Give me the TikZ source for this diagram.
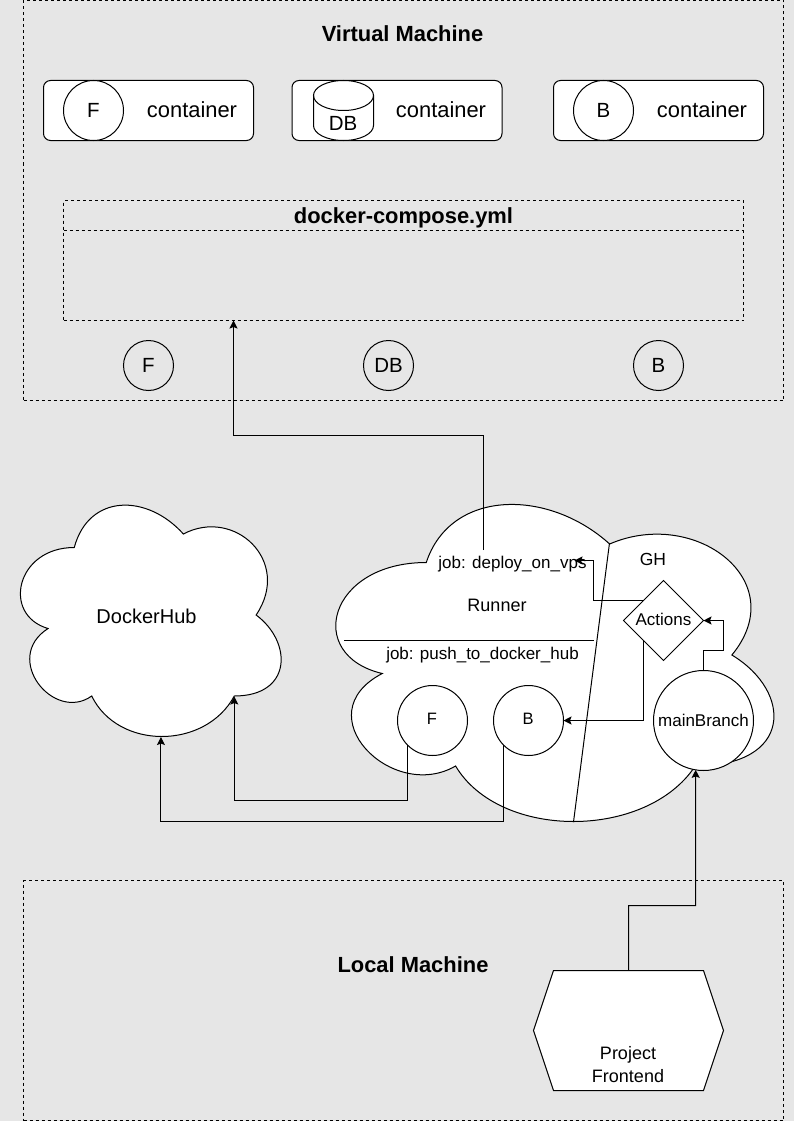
\documentclass[tikz,border=0pt]{standalone}
\usepackage{fontspec}
\setmainfont{Liberation Sans}
\usetikzlibrary{shapes.geometric,arrows.meta,calc}
\definecolor{pagebg}{HTML}{E6E6E6}
\newcommand{\fs}[1]{\fontsize{#1}{#1}\selectfont}
\def\cloudshape{(0.25,0.25) .. controls (0.05,0.25) and (0,0.5) .. (0.16,0.55)
 .. controls (0,0.66) and (0.18,0.9) .. (0.31,0.8)
 .. controls (0.4,1) and (0.7,1) .. (0.8,0.8)
 .. controls (1,0.8) and (1,0.6) .. (0.875,0.5)
 .. controls (1,0.3) and (0.8,0.1) .. (0.625,0.2)
 .. controls (0.5,0.05) and (0.3,0.05) .. (0.25,0.25) -- cycle}
\tikzset{
  x=1pt,y=-1pt,
  every node/.style={inner sep=0pt,outer sep=0pt},
  every path/.style={line width=1pt},
  zone/.style={draw=black,dash pattern=on 3pt off 3pt,rectangle,anchor=north west},
  title/.style={font=\bfseries\fs{21.9}},
  conbox/.style={draw=black,fill=white,rounded corners=7pt,rectangle,minimum width=210pt,minimum height=60pt},
  bigcirc/.style={draw=black,fill=white,circle,minimum size=60pt,font=\fs{20.5}},
  plaincirc/.style={draw=black,circle,minimum size=50pt,font=\fs{20.5}},
  jobcirc/.style={draw=black,fill=white,circle,minimum size=70pt,font=\fs{16.5}},
  lbl/.style={font=\fs{17}},
  lblbig/.style={font=\fs{21.9}},
  arrow/.style={draw=black,-{Stealth[length=8pt,width=8pt,inset=1.5pt]}},
  plainline/.style={draw=black}
}
\begin{document}
\begin{tikzpicture}
\useasboundingbox (0,0) rectangle (794,1121);
\fill[pagebg] (0,0) rectangle (794,1121);

% Virtual machine
\node[zone,minimum width=760pt,minimum height=400pt] (vm) at (23.5,0.5) {};
\node[title] (vmtitle) at (402.5,34) {Virtual Machine};
\node[conbox] (c1) at (148.5,110.5) {};
\node[conbox] (c2) at (397,110.5) {};
\node[conbox] (c3) at (658.5,110.5) {};
\node[bigcirc] (cF) at (93.5,110.5) {F};
\node[bigcirc] (cB) at (603.5,110.5) {B};
\draw[fill=white] (313.5,95.5) -- (313.5,125.5) arc[start angle=180,end angle=0,x radius=30,y radius=15] -- (373.5,95.5);
\draw (343.5,95.5) ellipse[x radius=30,y radius=15];
\node[lblbig,font=\fs{20.5}] (cDB) at (343,123) {DB};
\node[lblbig] (t1) at (192,110) {container};
\node[lblbig] (t2) at (441,110) {container};
\node[lblbig] (t3) at (702,110) {container};

% compose
\node[zone,minimum width=680pt,minimum height=120pt] (compose) at (63.5,200.5) {};
\node[zone,minimum width=680pt,minimum height=30pt] (composehead) at (63.5,200.5) {};
\node[title] (composetitle) at (403.5,218) {docker-compose.yml};
\coordinate (composein) at (233.5,320.5);
\node[plaincirc] (vF) at (148.5,365.5) {F};
\node[plaincirc] (vDB) at (388.5,365.5) {DB};
\node[plaincirc] (vB) at (658.5,365.5) {B};

% DockerHub cloud
\begin{scope}[shift={(1.5,480)},x=291pt,y=-270pt]
  \draw[fill=white] \cloudshape;
  \coordinate (hubA) at (0.548,0.952);
  \coordinate (hubB) at (0.8,0.802);
\end{scope}
\node[font=\fs{20}] (hub) at (146.5,616) {DockerHub};

% Runner/GH cloud
\begin{scope}[shift={(304,470)},x=489pt,y=-370pt]
  \draw[fill=white] \cloudshape;
\end{scope}
\coordinate (splitA) at (573.5,822);
\coordinate (splitB) at (609.5,543);
\draw[plainline] (splitA) -- (splitB);
\coordinate (ruleA) at (344,640.5);
\coordinate (ruleB) at (594,640.5);
\draw[plainline] (ruleA) -- (ruleB);
\node[lbl] (deploy) at (512.5,564) {job: deploy\_on\_vps};
\node[lbl] (push) at (482.5,655) {job: push\_to\_docker\_hub};
\node[font=\fs{18}] (runner) at (497,605) {Runner};
\node[font=\fs{17.5}] (gh) at (653,559) {GH};
\node[draw=black,fill=white,diamond,aspect=1,minimum width=80pt,minimum height=80pt] (actions) at (663.5,620.5) {};
\node[lbl] (actionstext) at (663.5,619.5) {Actions};
\node[jobcirc] (rF) at (432.5,720.5) {};
\node[jobcirc] (rB) at (528.5,720.5) {};
\node[font=\fs{16.5}] (rFt) at (432,719) {F};
\node[font=\fs{16.5}] (rBt) at (528,719) {B};
\node[draw=black,fill=white,circle,minimum size=100pt,font=\fs{17}] (main) at (703.5,720.5) {mainBranch};
\coordinate (deploysrc) at (483.5,550);

% Local machine
\node[zone,minimum width=760pt,minimum height=240pt] (local) at (23.5,880.5) {};
\node[title] (localtitle) at (413,964.5) {Local Machine};
\node[rectangle,minimum width=190pt,minimum height=120pt] (proj) at (628.5,1030.5) {};
\draw[fill=white] (proj.west) -- ($(proj.north west)+(20,0)$) -- ($(proj.north east)+(-20,0)$) -- (proj.east)
  -- ($(proj.south east)+(-20,0)$) -- ($(proj.south west)+(20,0)$) -- cycle;
\node[font=\fs{18},align=center,text depth=0pt] (projtext) at (628,1064.5) {Project\\[5pt]Frontend};

% connectors
\coordinate (busF) at (0,800.5);
\coordinate (busB) at (0,821);
\draw[arrow] (deploysrc) -- (483.5,435.5) -| (composein);
\draw[arrow] (actions.north west) -- (593.5,600.5) |- (574.5,560.5);
\draw[arrow] (actions.south west) |- (rB.east);
\draw[arrow] (main.north) -- (703.5,650.5) -- (723.5,650.5) |- (actions.east);
\draw[arrow] (rF.south west) |- (busF -| hubB) -- (hubB);
\draw[arrow] (rB.south west) |- (busB -| hubA) -- (hubA);
\draw[arrow] (proj.north) |- (695.5,905.5) -- (main.261);
\end{tikzpicture}
\end{document}
